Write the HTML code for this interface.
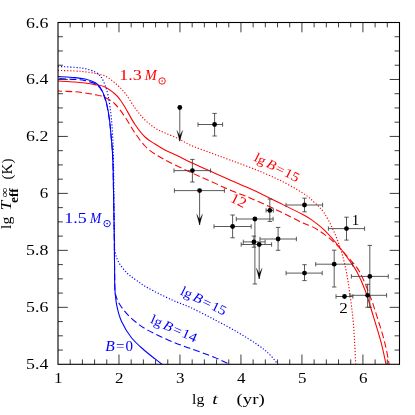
<!DOCTYPE html>
<html><head><meta charset="utf-8"><title>Cooling curves</title>
<style>
html,body{margin:0;padding:0;background:#fff;}
body{width:415px;height:415px;overflow:hidden;font-family:"Liberation Serif",serif;}
svg{display:block;will-change:transform;}
</style></head><body>
<svg width="415" height="415" viewBox="0 0 415 415">
<rect width="415" height="415" fill="#fff"/>
<defs><clipPath id="c"><rect x="58.00" y="22.50" width="341.50" height="341.80"/></clipPath></defs>
<g clip-path="url(#c)" fill="none" stroke-linejoin="round">
<path d="M58.00,70.40 C60.83,70.50 70.50,70.77 75.00,71.00 C79.50,71.23 81.67,71.40 85.00,71.80 C88.33,72.20 91.67,72.70 95.00,73.40 C98.33,74.10 101.67,74.40 105.00,76.00 C108.33,77.60 111.67,80.17 115.00,83.00 C118.33,85.83 121.67,88.83 125.00,93.00 C128.33,97.17 131.67,103.50 135.00,108.00 C138.33,112.50 141.67,116.67 145.00,120.00 C148.33,123.33 151.67,125.83 155.00,128.00 C158.33,130.17 161.17,131.27 165.00,133.00 C168.83,134.73 173.83,136.40 178.00,138.40 C182.17,140.40 184.67,142.63 190.00,145.00 C195.33,147.37 203.33,150.10 210.00,152.60 C216.67,155.10 222.83,157.33 230.00,160.00 C237.17,162.67 244.97,165.37 253.00,168.60 C261.03,171.83 269.98,175.38 278.20,179.40 C286.42,183.42 296.28,188.88 302.30,192.70 C308.32,196.52 310.67,198.93 314.30,202.30 C317.93,205.67 320.87,208.12 324.10,212.90 C327.33,217.68 330.88,224.78 333.70,231.00 C336.52,237.22 338.95,243.70 341.00,250.20 C343.05,256.70 344.57,263.03 346.00,270.00 C347.43,276.97 348.45,283.97 349.60,292.00 C350.75,300.03 352.07,309.82 352.90,318.20 C353.73,326.58 354.12,334.50 354.60,342.30 C355.08,350.10 355.60,361.22 355.80,365.00" stroke="#ff0000" stroke-width="1.15" stroke-dasharray="1.2 1.85"/>
<path d="M58.00,81.00 C60.83,81.17 70.50,81.67 75.00,82.00 C79.50,82.33 81.67,82.57 85.00,83.00 C88.33,83.43 91.67,83.93 95.00,84.60 C98.33,85.27 101.67,85.43 105.00,87.00 C108.33,88.57 112.45,91.83 115.00,94.00 C117.55,96.17 118.58,97.70 120.30,100.00 C122.02,102.30 122.85,103.72 125.30,107.80 C127.75,111.88 131.72,119.63 135.00,124.50 C138.28,129.37 141.67,133.75 145.00,137.00 C148.33,140.25 151.67,141.83 155.00,144.00 C158.33,146.17 161.17,148.00 165.00,150.00 C168.83,152.00 173.83,154.00 178.00,156.00 C182.17,158.00 184.67,159.50 190.00,162.00 C195.33,164.50 203.33,168.00 210.00,171.00 C216.67,174.00 222.83,176.83 230.00,180.00 C237.17,183.17 244.97,186.28 253.00,190.00 C261.03,193.72 269.98,198.25 278.20,202.30 C286.42,206.35 296.67,211.33 302.30,214.30 C307.93,217.27 308.37,217.52 312.00,220.10 C315.63,222.68 320.08,225.98 324.10,229.80 C328.12,233.62 332.08,238.18 336.10,243.00 C340.12,247.82 344.72,253.87 348.20,258.70 C351.68,263.53 354.13,266.62 357.00,272.00 C359.87,277.38 362.58,283.30 365.40,291.00 C368.22,298.70 371.28,309.65 373.90,318.20 C376.52,326.75 379.05,334.50 381.10,342.30 C383.15,350.10 385.35,361.22 386.20,365.00" stroke="#ff0000" stroke-width="1.08"/>
<path d="M58.00,91.00 C60.83,91.13 70.50,91.47 75.00,91.80 C79.50,92.13 81.67,92.53 85.00,93.00 C88.33,93.47 91.67,93.87 95.00,94.60 C98.33,95.33 101.67,95.83 105.00,97.40 C108.33,98.97 111.67,100.73 115.00,104.00 C118.33,107.27 121.67,112.17 125.00,117.00 C128.33,121.83 131.67,128.17 135.00,133.00 C138.33,137.83 141.67,142.50 145.00,146.00 C148.33,149.50 151.00,151.33 155.00,154.00 C159.00,156.67 163.17,159.00 169.00,162.00 C174.83,165.00 183.17,168.83 190.00,172.00 C196.83,175.17 203.33,178.00 210.00,181.00 C216.67,184.00 223.33,187.17 230.00,190.00 C236.67,192.83 241.97,194.55 250.00,198.00 C258.03,201.45 269.48,206.57 278.20,210.70 C286.92,214.83 296.67,220.15 302.30,222.80 C307.93,225.45 308.37,224.72 312.00,226.60 C315.63,228.48 320.08,231.17 324.10,234.10 C328.12,237.03 332.08,240.30 336.10,244.20 C340.12,248.10 344.32,252.95 348.20,257.50 C352.08,262.05 355.73,265.00 359.40,271.50 C363.07,278.00 367.18,288.72 370.20,296.50 C373.22,304.28 375.08,310.57 377.50,318.20 C379.92,325.83 382.73,334.50 384.70,342.30 C386.67,350.10 388.53,361.22 389.30,365.00" stroke="#ff0000" stroke-width="1.08" stroke-dasharray="6.7 3.3" stroke-dashoffset="2.6"/>
<path d="M58.00,76.60 C60.83,76.77 70.50,77.20 75.00,77.60 C79.50,78.00 81.67,78.20 85.00,79.00 C88.33,79.80 92.50,81.07 95.00,82.40 C97.50,83.73 98.50,84.90 100.00,87.00 C101.50,89.10 102.83,92.00 104.00,95.00 C105.17,98.00 106.10,101.00 107.00,105.00 C107.90,109.00 108.73,114.00 109.40,119.00 C110.07,124.00 110.52,129.83 111.00,135.00 C111.48,140.17 111.97,145.00 112.30,150.00 C112.63,155.00 112.80,158.33 113.00,165.00 C113.20,171.67 113.28,177.50 113.50,190.00 C113.72,202.50 114.12,226.67 114.30,240.00 C114.48,253.33 114.50,261.78 114.60,270.00 C114.70,278.22 114.52,283.28 114.90,289.30 C115.28,295.32 115.77,300.68 116.90,306.10 C118.03,311.52 119.30,316.57 121.70,321.80 C124.10,327.03 127.68,332.88 131.30,337.50 C134.92,342.12 139.38,345.88 143.40,349.50 C147.42,353.12 152.13,356.62 155.40,359.20 C158.67,361.78 161.73,364.03 163.00,365.00" stroke="#0000ff" stroke-width="1.08"/>
<path d="M58.00,78.60 C60.83,78.73 70.50,79.07 75.00,79.40 C79.50,79.73 81.67,79.90 85.00,80.60 C88.33,81.30 92.50,82.37 95.00,83.60 C97.50,84.83 98.50,85.93 100.00,88.00 C101.50,90.07 102.83,93.00 104.00,96.00 C105.17,99.00 106.10,102.00 107.00,106.00 C107.90,110.00 108.73,115.17 109.40,120.00 C110.07,124.83 110.52,130.00 111.00,135.00 C111.48,140.00 111.97,145.00 112.30,150.00 C112.63,155.00 112.80,158.33 113.00,165.00 C113.20,171.67 113.28,177.50 113.50,190.00 C113.72,202.50 114.12,226.67 114.30,240.00 C114.48,253.33 114.48,261.50 114.60,270.00 C114.72,278.50 114.77,286.67 115.00,291.00 C115.23,295.33 115.28,293.88 116.00,296.00 C116.72,298.12 117.55,300.80 119.30,303.70 C121.05,306.60 123.70,310.30 126.50,313.40 C129.30,316.50 132.48,319.47 136.10,322.30 C139.72,325.13 142.17,327.15 148.20,330.40 C154.23,333.65 165.33,338.82 172.30,341.80 C179.27,344.78 183.03,345.73 190.00,348.30 C196.97,350.87 207.27,354.42 214.10,357.20 C220.93,359.98 228.18,363.70 231.00,365.00" stroke="#0000ff" stroke-width="1.08" stroke-dasharray="6.7 3.3" stroke-dashoffset="8.5"/>
<path d="M58.00,66.40 C60.83,66.57 70.50,67.03 75.00,67.40 C79.50,67.77 81.67,67.83 85.00,68.60 C88.33,69.37 92.33,70.60 95.00,72.00 C97.67,73.40 99.33,74.83 101.00,77.00 C102.67,79.17 103.83,82.00 105.00,85.00 C106.17,88.00 107.17,91.33 108.00,95.00 C108.83,98.67 109.40,102.67 110.00,107.00 C110.60,111.33 111.17,116.33 111.60,121.00 C112.03,125.67 112.33,130.17 112.60,135.00 C112.87,139.83 113.03,144.17 113.20,150.00 C113.37,155.83 113.47,161.67 113.60,170.00 C113.73,178.33 113.85,188.33 114.00,200.00 C114.15,211.67 114.33,231.43 114.50,240.00 C114.67,248.57 114.30,247.68 115.00,251.40 C115.70,255.12 116.68,258.68 118.70,262.30 C120.72,265.92 124.20,270.13 127.10,273.10 C130.00,276.07 132.58,277.60 136.10,280.10 C139.62,282.60 142.17,284.77 148.20,288.10 C154.23,291.43 165.33,296.90 172.30,300.10 C179.27,303.30 183.03,304.08 190.00,307.30 C196.97,310.52 206.07,315.18 214.10,319.40 C222.13,323.62 230.97,328.38 238.20,332.60 C245.43,336.82 252.28,341.08 257.50,344.70 C262.72,348.32 266.00,350.92 269.50,354.30 C273.00,357.68 277.00,363.22 278.50,365.00" stroke="#0000ff" stroke-width="1.15" stroke-dasharray="1.2 1.85"/>
</g>
<g stroke="#3c3c3c" stroke-width="0.85" fill="none">
<path d="M179.80,107.50 V141.20"/>
<path d="M198.00,124.50 H222.60 M198.00,122.30 V126.70 M222.60,122.30 V126.70"/>
<path d="M214.60,113.40 V136.00 M212.40,113.40 H216.80 M212.40,136.00 H216.80"/>
<path d="M174.00,170.60 H210.60 M174.00,168.40 V172.80 M210.60,168.40 V172.80"/>
<path d="M192.40,159.40 V182.00 M190.20,159.40 H194.60 M190.20,182.00 H194.60"/>
<path d="M174.40,190.60 H224.40 M174.40,188.40 V192.80 M224.40,188.40 V192.80"/>
<path d="M199.60,190.60 V225.00"/>
<path d="M214.00,226.50 H251.20 M214.00,224.30 V228.70 M251.20,224.30 V228.70"/>
<path d="M232.60,215.00 V237.80 M230.40,215.00 H234.80 M230.40,237.80 H234.80"/>
<path d="M236.30,219.00 H273.10 M236.30,216.80 V221.20 M273.10,216.80 V221.20"/>
<path d="M254.90,219.00 V284.00 M252.70,284.00 H257.10"/>
<path d="M243.30,241.90 H265.10 M243.30,239.70 V244.10 M265.10,239.70 V244.10"/>
<path d="M253.90,236.10 V247.20 M251.70,236.10 H256.10 M251.70,247.20 H256.10"/>
<path d="M241.20,244.50 H271.60 M241.20,242.30 V246.70 M271.60,242.30 V246.70"/>
<path d="M259.20,244.50 V279.00"/>
<path d="M266.10,210.40 H273.30 M266.10,208.20 V212.60 M273.30,208.20 V212.60"/>
<path d="M269.80,199.00 V221.40 M267.60,199.00 H272.00 M267.60,221.40 H272.00"/>
<path d="M260.00,239.00 H296.40 M260.00,236.80 V241.20 M296.40,236.80 V241.20"/>
<path d="M278.10,227.40 V250.30 M275.90,227.40 H280.30 M275.90,250.30 H280.30"/>
<path d="M286.00,205.00 H322.60 M286.00,202.80 V207.20 M322.60,202.80 V207.20"/>
<path d="M304.50,198.20 V211.80 M302.30,198.20 H306.70 M302.30,211.80 H306.70"/>
<path d="M286.10,273.10 H322.20 M286.10,270.90 V275.30 M322.20,270.90 V275.30"/>
<path d="M304.50,264.70 V280.60 M302.30,264.70 H306.70 M302.30,280.60 H306.70"/>
<path d="M328.40,228.60 H364.60 M328.40,226.40 V230.80 M364.60,226.40 V230.80"/>
<path d="M346.50,217.20 V240.10 M344.30,217.20 H348.70 M344.30,240.10 H348.70"/>
<path d="M315.70,264.20 H352.50 M315.70,262.00 V266.40 M352.50,262.00 V266.40"/>
<path d="M334.20,250.20 V287.00 M332.00,250.20 H336.40 M332.00,287.00 H336.40"/>
<path d="M351.40,276.40 H388.30 M351.40,274.20 V278.60 M388.30,274.20 V278.60"/>
<path d="M369.80,245.40 V307.30 M367.60,245.40 H372.00 M367.60,307.30 H372.00"/>
<path d="M349.80,295.30 H386.60 M349.80,293.10 V297.50 M386.60,293.10 V297.50"/>
<path d="M367.60,284.30 V307.30 M365.40,284.30 H369.80 M365.40,307.30 H369.80"/>
<path d="M336.00,296.50 H352.90 M336.00,294.30 V298.70 M352.90,294.30 V298.70"/>
</g>
<path d="M176.90,130.40 L179.80,141.20 L182.70,130.40 L179.80,135.80 Z" fill="#000" stroke="#000" stroke-width="0.25" stroke-linejoin="miter"/>
<circle cx="179.80" cy="107.50" r="2.4" fill="#000"/>
<circle cx="214.60" cy="124.50" r="2.4" fill="#000"/>
<circle cx="192.40" cy="170.60" r="2.4" fill="#000"/>
<path d="M196.70,214.20 L199.60,225.00 L202.50,214.20 L199.60,219.60 Z" fill="#000" stroke="#000" stroke-width="0.25" stroke-linejoin="miter"/>
<circle cx="199.60" cy="190.60" r="2.4" fill="#000"/>
<circle cx="232.60" cy="226.50" r="2.4" fill="#000"/>
<circle cx="254.90" cy="219.00" r="2.4" fill="#000"/>
<circle cx="253.90" cy="241.90" r="2.4" fill="#000"/>
<path d="M256.30,268.20 L259.20,279.00 L262.10,268.20 L259.20,273.60 Z" fill="#000" stroke="#000" stroke-width="0.25" stroke-linejoin="miter"/>
<circle cx="259.20" cy="244.50" r="2.4" fill="#000"/>
<circle cx="269.80" cy="210.40" r="2.4" fill="#000"/>
<circle cx="278.10" cy="239.00" r="2.4" fill="#000"/>
<circle cx="304.50" cy="205.00" r="2.4" fill="#000"/>
<circle cx="304.50" cy="273.10" r="2.4" fill="#000"/>
<circle cx="346.50" cy="228.60" r="2.4" fill="#000"/>
<circle cx="334.20" cy="264.20" r="2.4" fill="#000"/>
<circle cx="369.80" cy="276.40" r="2.4" fill="#000"/>
<circle cx="367.60" cy="295.30" r="2.4" fill="#000"/>
<circle cx="344.50" cy="296.50" r="2.4" fill="#000"/>
<g stroke="#333" stroke-width="0.95" fill="none">
<path d="M70.20,364.30 v-4.90 M70.20,22.50 v4.90 M82.39,364.30 v-4.90 M82.39,22.50 v4.90 M94.59,364.30 v-4.90 M94.59,22.50 v4.90 M106.79,364.30 v-4.90 M106.79,22.50 v4.90 M118.98,364.30 v-9.80 M118.98,22.50 v9.80 M131.18,364.30 v-4.90 M131.18,22.50 v4.90 M143.38,364.30 v-4.90 M143.38,22.50 v4.90 M155.57,364.30 v-4.90 M155.57,22.50 v4.90 M167.77,364.30 v-4.90 M167.77,22.50 v4.90 M179.96,364.30 v-9.80 M179.96,22.50 v9.80 M192.16,364.30 v-4.90 M192.16,22.50 v4.90 M204.36,364.30 v-4.90 M204.36,22.50 v4.90 M216.55,364.30 v-4.90 M216.55,22.50 v4.90 M228.75,364.30 v-4.90 M228.75,22.50 v4.90 M240.95,364.30 v-9.80 M240.95,22.50 v9.80 M253.14,364.30 v-4.90 M253.14,22.50 v4.90 M265.34,364.30 v-4.90 M265.34,22.50 v4.90 M277.54,364.30 v-4.90 M277.54,22.50 v4.90 M289.73,364.30 v-4.90 M289.73,22.50 v4.90 M301.93,364.30 v-9.80 M301.93,22.50 v9.80 M314.12,364.30 v-4.90 M314.12,22.50 v4.90 M326.32,364.30 v-4.90 M326.32,22.50 v4.90 M338.52,364.30 v-4.90 M338.52,22.50 v4.90 M350.71,364.30 v-4.90 M350.71,22.50 v4.90 M362.91,364.30 v-9.80 M362.91,22.50 v9.80 M375.11,364.30 v-4.90 M375.11,22.50 v4.90 M387.30,364.30 v-4.90 M387.30,22.50 v4.90 M58.00,350.06 h4.90 M399.50,350.06 h-4.90 M58.00,335.82 h4.90 M399.50,335.82 h-4.90 M58.00,321.57 h4.90 M399.50,321.57 h-4.90 M58.00,307.33 h9.80 M399.50,307.33 h-9.80 M58.00,293.09 h4.90 M399.50,293.09 h-4.90 M58.00,278.85 h4.90 M399.50,278.85 h-4.90 M58.00,264.61 h4.90 M399.50,264.61 h-4.90 M58.00,250.37 h9.80 M399.50,250.37 h-9.80 M58.00,236.12 h4.90 M399.50,236.12 h-4.90 M58.00,221.88 h4.90 M399.50,221.88 h-4.90 M58.00,207.64 h4.90 M399.50,207.64 h-4.90 M58.00,193.40 h9.80 M399.50,193.40 h-9.80 M58.00,179.16 h4.90 M399.50,179.16 h-4.90 M58.00,164.92 h4.90 M399.50,164.92 h-4.90 M58.00,150.67 h4.90 M399.50,150.67 h-4.90 M58.00,136.43 h9.80 M399.50,136.43 h-9.80 M58.00,122.19 h4.90 M399.50,122.19 h-4.90 M58.00,107.95 h4.90 M399.50,107.95 h-4.90 M58.00,93.71 h4.90 M399.50,93.71 h-4.90 M58.00,79.47 h9.80 M399.50,79.47 h-9.80 M58.00,65.22 h4.90 M399.50,65.22 h-4.90 M58.00,50.98 h4.90 M399.50,50.98 h-4.90 M58.00,36.74 h4.90 M399.50,36.74 h-4.90 "/>
</g>
<rect x="58.00" y="22.50" width="341.50" height="341.80" fill="none" stroke="#000" stroke-width="1.1"/>
<g font-family="'Liberation Serif', serif" font-size="14" fill="#000">
<text x="58.30" y="383.20" text-anchor="middle" textLength="8.50" lengthAdjust="spacingAndGlyphs">1</text>
<text x="119.28" y="383.20" text-anchor="middle" textLength="8.50" lengthAdjust="spacingAndGlyphs">2</text>
<text x="180.26" y="383.20" text-anchor="middle" textLength="8.50" lengthAdjust="spacingAndGlyphs">3</text>
<text x="241.25" y="383.20" text-anchor="middle" textLength="8.50" lengthAdjust="spacingAndGlyphs">4</text>
<text x="302.23" y="383.20" text-anchor="middle" textLength="8.50" lengthAdjust="spacingAndGlyphs">5</text>
<text x="363.21" y="383.20" text-anchor="middle" textLength="8.50" lengthAdjust="spacingAndGlyphs">6</text>
<text x="48.30" y="369.30" text-anchor="end" textLength="22.30" lengthAdjust="spacingAndGlyphs">5.4</text>
<text x="48.30" y="312.33" text-anchor="end" textLength="22.30" lengthAdjust="spacingAndGlyphs">5.6</text>
<text x="48.30" y="255.37" text-anchor="end" textLength="22.30" lengthAdjust="spacingAndGlyphs">5.8</text>
<text x="48.30" y="198.40" text-anchor="end" textLength="8.50" lengthAdjust="spacingAndGlyphs">6</text>
<text x="48.30" y="141.43" text-anchor="end" textLength="22.30" lengthAdjust="spacingAndGlyphs">6.2</text>
<text x="48.30" y="84.47" text-anchor="end" textLength="22.30" lengthAdjust="spacingAndGlyphs">6.4</text>
<text x="48.30" y="27.50" text-anchor="end" textLength="22.30" lengthAdjust="spacingAndGlyphs">6.6</text>
</g>
<g font-family="'Liberation Serif', serif">
<text x="119.3" y="79.6" font-size="14" fill="#ff0000" text-anchor="start" textLength="22.5" lengthAdjust="spacingAndGlyphs">1.3</text>
<text x="144.7" y="79.6" font-size="14" fill="#ff0000" text-anchor="start" font-style="italic" textLength="12" lengthAdjust="spacingAndGlyphs">M</text>
<circle cx="162.1" cy="81" r="3.2" fill="none" stroke="#ff0000" stroke-width="0.9"/><circle cx="162.1" cy="81" r="0.8" fill="#ff0000"/>
<text x="64.3" y="222.6" font-size="15.5" fill="#0000ff" text-anchor="start" textLength="22.5" lengthAdjust="spacingAndGlyphs">1.5</text>
<text x="90" y="222.6" font-size="15.5" fill="#0000ff" text-anchor="start" font-style="italic" textLength="11.2" lengthAdjust="spacingAndGlyphs">M</text>
<circle cx="107.1" cy="223.6" r="3.2" fill="none" stroke="#0000ff" stroke-width="0.9"/><circle cx="107.1" cy="223.6" r="0.8" fill="#0000ff"/>
<text x="105.2" y="351" font-size="14" fill="#0000ff" text-anchor="start" font-style="italic" textLength="9.5" lengthAdjust="spacingAndGlyphs">B</text>
<text x="116" y="351" font-size="14" fill="#0000ff" text-anchor="start" textLength="8.4" lengthAdjust="spacingAndGlyphs">=</text>
<text x="125.4" y="351" font-size="14" fill="#0000ff" text-anchor="start" textLength="7.5" lengthAdjust="spacingAndGlyphs">0</text>
<g transform="translate(149.5,322.5) rotate(24) scale(0.96)">
<text x="0" y="0" font-size="14" fill="#0000ff" text-anchor="start" textLength="12" lengthAdjust="spacingAndGlyphs">lg</text>
<text x="14.5" y="0" font-size="14" fill="#0000ff" text-anchor="start" font-style="italic" textLength="9.5" lengthAdjust="spacingAndGlyphs">B</text>
<text x="25.3" y="0" font-size="14" fill="#0000ff" text-anchor="start" textLength="9" lengthAdjust="spacingAndGlyphs">=</text>
<text x="35.5" y="0" font-size="14" fill="#0000ff" text-anchor="start" textLength="16" lengthAdjust="spacingAndGlyphs">14</text>
</g>
<g transform="translate(179.5,294) rotate(26) scale(0.96)">
<text x="0" y="0" font-size="14" fill="#0000ff" text-anchor="start" textLength="12" lengthAdjust="spacingAndGlyphs">lg</text>
<text x="14.5" y="0" font-size="14" fill="#0000ff" text-anchor="start" font-style="italic" textLength="9.5" lengthAdjust="spacingAndGlyphs">B</text>
<text x="25.3" y="0" font-size="14" fill="#0000ff" text-anchor="start" textLength="9" lengthAdjust="spacingAndGlyphs">=</text>
<text x="35.5" y="0" font-size="14" fill="#0000ff" text-anchor="start" textLength="16" lengthAdjust="spacingAndGlyphs">15</text>
</g>
<g transform="translate(253.2,160.3) rotate(27) scale(0.95)">
<text x="0" y="0" font-size="14" fill="#ff0000" text-anchor="start" textLength="12" lengthAdjust="spacingAndGlyphs">lg</text>
<text x="14.5" y="0" font-size="14" fill="#ff0000" text-anchor="start" font-style="italic" textLength="9.5" lengthAdjust="spacingAndGlyphs">B</text>
<text x="25.3" y="0" font-size="14" fill="#ff0000" text-anchor="start" textLength="9" lengthAdjust="spacingAndGlyphs">=</text>
<text x="35.5" y="0" font-size="14" fill="#ff0000" text-anchor="start" textLength="16" lengthAdjust="spacingAndGlyphs">15</text>
</g>
<g transform="translate(229.3,201.2) rotate(26)">
<text x="0" y="0" font-size="14.5" fill="#ff0000" text-anchor="start" textLength="16" lengthAdjust="spacingAndGlyphs">12</text>
</g>
<text x="351.8" y="225.4" font-size="15.5" fill="#000" text-anchor="start" textLength="7.5" lengthAdjust="spacingAndGlyphs">1</text>
<text x="339.2" y="313" font-size="15.5" fill="#000" text-anchor="start" textLength="8.5" lengthAdjust="spacingAndGlyphs">2</text>
<text x="192" y="403.6" font-size="15" fill="#000" text-anchor="start" textLength="12.3" lengthAdjust="spacingAndGlyphs">lg</text>
<text x="212.3" y="403.6" font-size="15" fill="#000" text-anchor="start" font-style="italic" textLength="5.5" lengthAdjust="spacingAndGlyphs">t</text>
<text x="236.6" y="403.6" font-size="15" fill="#000" text-anchor="start" textLength="28.2" lengthAdjust="spacingAndGlyphs">(yr)</text>
<g transform="translate(11,229) rotate(-90)">
<text x="0" y="0" font-size="15" fill="#000" text-anchor="start" textLength="12.3" lengthAdjust="spacingAndGlyphs">lg</text>
<text x="18.7" y="0" font-size="15" fill="#000" text-anchor="start" font-style="italic" textLength="9.5" lengthAdjust="spacingAndGlyphs">T</text>
<text x="26" y="7" font-size="12" fill="#000" text-anchor="start" font-weight="bold" textLength="14.8" lengthAdjust="spacingAndGlyphs">eff</text>
<text x="31.5" y="-3.2" font-size="11" fill="#000" text-anchor="start" textLength="10" lengthAdjust="spacingAndGlyphs">∞</text>
<text x="49.5" y="0.6" font-size="15.5" fill="#000" text-anchor="start" textLength="21" lengthAdjust="spacingAndGlyphs">(K)</text>
</g>
</g>
</svg>
</body></html>
